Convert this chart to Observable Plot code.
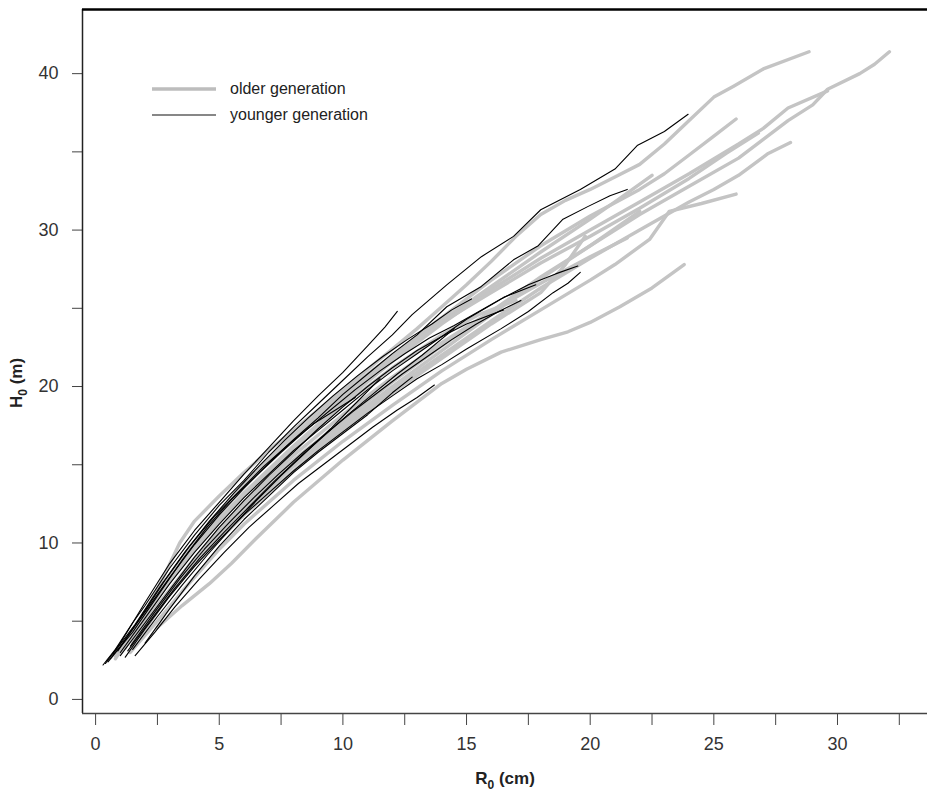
<!DOCTYPE html>
<html>
<head>
<meta charset="utf-8">
<script src="https://cdn.jsdelivr.net/npm/d3@7"></script>
<script src="https://cdn.jsdelivr.net/npm/@observablehq/plot@0.6"></script>
<style>
  html, body { margin: 0; padding: 0; background: #fff; }
  #wrap { position: relative; width: 927px; height: 798px; font-family: "Liberation Sans", Arial, sans-serif; }
  #legend { position: absolute; left: 150px; top: 76px; font-size: 16px; color: #222; line-height: 26px; }
  #legend div { display: flex; align-items: center; }
  #legend svg { margin-right: 12px; }
</style>
</head>
<body>
<div id="wrap">
  <div id="chart"></div>
  <div id="legend">
    <div><svg width="68" height="10"><line x1="2" x2="66" y1="5" y2="5" stroke="#bdbdbd" stroke-width="3.5"/></svg>older generation</div>
    <div><svg width="68" height="10"><line x1="2" x2="66" y1="5" y2="5" stroke="#111" stroke-width="1.2"/></svg>younger generation</div>
  </div>
</div>
<script>
// ---- Data: stem profiles, [R0 (cm), H0 (m)] ----
// older generation (grey)
const old1  = [[1.2,3.3],[2,5.5],[2.8,8.0],[3.4,10.0],[4,11.4],[5,13.0],[6,14.5],[7,15.9],[8,17.2],[9,18.5],[10,19.8],[11,21.1],[12,22.4],[13,23.7],[14,25.1],[15,26.5],[16,28.0],[17,29.6],[18,31.0],[19,31.9],[20,32.6],[21,33.4],[22,34.2],[23,35.5],[24,37.0],[25,38.5],[25.8,39.2],[27,40.3],[28.85,41.4]];
const old2  = [[0.8,2.8],[2,5.0],[3,7.0],[4,9.0],[5,10.8],[6,12.4],[8,15.3],[10,17.8],[12,20.3],[14,22.6],[16,24.8],[18,27.0],[20,29.0],[22,31.0],[24,32.8],[26,34.6],[27,35.8],[28,37.0],[29,38.0],[29.6,39.0],[30.9,40.0],[31.5,40.6],[32.1,41.4]];
const old3  = [[1.5,3.5],[2.5,5.8],[3.5,7.8],[5,10.4],[6,12.0],[8,14.9],[10,17.4],[12,19.8],[14,22.0],[16,24.2],[18,26.3],[20,28.2],[22,30.0],[24,31.8],[25,32.6],[26,33.5],[27.2,34.9],[28.1,35.6]];
const old4  = [[1.4,3.0],[2.5,5.0],[3.5,6.9],[5,9.6],[6,11.2],[8,14.0],[10,16.5],[12,18.8],[14,21.0],[16,23.0],[18,24.9],[20,26.8],[21,27.8],[22.4,29.4],[23.2,31.2],[24.5,31.7],[25.9,32.3]];
const old5  = [[2.5,4.6],[3.5,6.0],[4.6,7.4],[5.5,8.7],[6.5,10.3],[8,12.6],[10,15.3],[12,17.8],[13,19.0],[14,20.2],[15,21.1],[16.4,22.2],[18,23.0],[19.1,23.5],[20,24.1],[21.2,25.1],[22.5,26.3],[23.8,27.8]];
const old6  = [[0.8,2.6],[2,5.4],[3,7.6],[4,9.8],[5,11.8],[6,13.6],[8,16.8],[10,19.5],[12,22.0],[14,24.4],[16,26.8],[18,29.0],[20,30.9],[22,32.6],[23,33.6],[24,34.8],[25,36.0],[25.9,37.1]];
const old7  = [[1,3.0],[2,5.6],[3,7.8],[4,9.7],[5,11.5],[6,13.2],[8,16.2],[10,19.0],[12,21.6],[14,24.0],[16,26.2],[18,28.2],[20,30.0],[22,31.8],[24,33.6],[26,35.5],[27,36.5],[28,37.8],[29.6,38.9]];
const old8  = [[1,3.2],[2,5.5],[3,7.9],[4,10.0],[5,12.0],[6,13.8],[7,15.4],[8,16.9],[10,19.6],[12,22.0],[14,24.2],[16,26.4],[18,28.6],[20,30.7],[21,31.8],[22.5,33.5]];
const old9  = [[1.5,3.6],[2.5,6.0],[4,9.0],[5,10.9],[6,12.6],[8,15.6],[10,18.2],[12,20.6],[14,22.8],[16,24.8],[18,26.6],[20,28.3],[21.5,29.5]];
const old10 = [[2,4.8],[3,6.9],[4,8.8],[5,10.6],[6,12.2],[8,15.0],[10,17.6],[12,20.0],[14,22.3],[16,24.6],[18,26.9],[20,29.0],[22,31.2]];
const old11 = [[0.5,2.5],[1.5,4.2],[2.5,6.5],[3.5,8.6],[5,11.4],[6,13.0],[8,16.0],[10,18.8],[12,21.2],[14,23.3],[15.5,24.6],[17,25.5]];
const old12 = [[1.8,4.0],[3,6.8],[4,8.6],[5,10.2],[6,11.8],[8,14.6],[10,17.2],[12,19.6],[14,21.8],[16,24.0],[18,26.0],[19,27.8],[19.8,29.6]];
const old13 = [[1.2,3.4],[2.2,5.9],[3.2,8.3],[4.2,10.4],[5.2,12.2],[6.5,14.4],[8,16.6],[10,19.3],[12,21.8],[14,24.1],[16,26.0],[18,27.9],[20,29.6],[22,31.4],[24,33.3],[25.5,34.9],[26.8,36.2]];
const olderSeries = [old1, old2, old3, old4, old5, old6, old7, old8, old9, old10, old11, old12, old13];

// younger generation (black)
const young1  = [[0.3,2.2],[0.8,3.2],[1.5,4.9],[2,6.0],[3,8.4],[4,10.5],[5,12.4],[6,14.0],[7,15.8],[8,17.4],[9,18.9],[10,20.4],[11,21.9],[12,23.3],[12.8,24.6],[14.2,26.5],[15.6,28.3],[16.9,29.6],[18,31.3],[19.6,32.6],[21,33.9],[21.9,35.4],[23,36.3],[23.96,37.4]];
const young2  = [[0.5,2.4],[1,3.4],[2,5.6],[3,7.8],[4,9.9],[5,11.8],[6,13.5],[7,15.1],[8,16.6],[9,18.0],[10,19.5],[11,20.8],[12,22.1],[13,23.3],[14.2,25.1],[15.6,26.4],[16.9,28.1],[17.9,29.0],[18.9,30.7],[19.9,31.5],[20.8,32.2],[21.5,32.6]];
const young3  = [[1,3.0],[2,5.2],[3,7.4],[4,9.4],[5,11.2],[6,12.9],[7,14.4],[8,15.9],[9,17.2],[10,18.5],[11,19.8],[12,21.0],[13,22.1],[14,23.2],[15,24.3],[16.4,25.6],[17.5,26.5],[18.6,27.2],[19.5,27.7]];
const young4  = [[1.2,2.7],[2,4.5],[3,6.6],[4,8.5],[5,10.2],[6,11.8],[7,13.2],[8,14.6],[9,15.9],[10,17.1],[11,18.3],[12,19.4],[13,20.5],[14,21.4],[15,22.4],[16.4,23.7],[17.5,24.8],[18.5,26.0],[19.1,26.6],[19.6,27.3]];
const young5  = [[0.6,2.6],[1.5,4.3],[2.5,6.6],[3.5,8.9],[4.5,11.0],[5.5,12.8],[6.5,14.3],[7.5,15.8],[8.5,17.2],[9.5,18.5],[10.5,19.8],[11.5,21.0],[12.5,22.1],[13.5,23.1],[14.5,23.9],[15.5,24.8],[16.5,25.7],[17.8,26.5]];
const young6  = [[0.4,2.3],[1,3.6],[2,6.2],[3,8.7],[4,10.8],[5,12.6],[6,14.4],[7,16.1],[8,17.8],[9,19.4],[10,20.9],[11,22.6],[11.7,23.8],[12.2,24.8]];
const young7  = [[1.3,3.1],[2.2,5.0],[3.2,7.1],[4.2,9.0],[5.2,10.7],[6.2,12.3],[7.2,13.9],[8.2,15.4],[9.2,16.8],[10.2,18.2],[11.2,19.5],[12.2,20.8],[13.2,22.0],[14.5,23.7]];
const young8  = [[1.6,2.8],[2.4,4.3],[3.2,5.9],[4.2,7.7],[5.2,9.4],[6.2,11.0],[7.2,12.4],[8.2,13.8],[9.2,15.0],[10.2,16.2],[11.2,17.4],[12.2,18.5],[13,19.3],[13.7,20.1]];
const young9  = [[1.0,2.8],[2,4.9],[3,7.0],[4,9.1],[5,11.0],[6,12.7],[7,14.3],[8,15.8],[9,17.3],[10,18.7],[11,20.0],[12,21.2],[13,22.3],[14,23.2],[15,24.0],[16.5,24.9]];
const young10 = [[1.4,3.4],[2.4,5.6],[3.4,7.7],[4.4,9.6],[5.4,11.3],[6.4,12.9],[7.4,14.4],[8.4,15.8],[9.4,17.1],[10.4,18.4],[11.4,19.6],[12.4,20.8],[13.4,21.9],[14.4,23.0],[15.4,24.0],[16.3,24.8],[17.2,25.5]];
const young11 = [[0.9,3.1],[1.8,5.2],[2.8,7.6],[3.8,9.8],[4.8,11.7],[5.8,13.3],[6.8,14.9],[7.8,16.3],[8.8,17.6],[9.7,18.5],[10.5,19.3]];
const young12 = [[0.7,2.9],[1.6,4.8],[2.6,7.2],[3.6,9.4],[4.6,11.4],[5.6,13.2],[6.6,14.9],[7.6,16.5],[8.6,18.0],[9.6,19.4],[10.6,20.7],[11.6,21.9],[12.6,23.0],[13.6,24.0],[14.4,24.9],[15.2,25.6]];
const young13 = [[1.5,3.2],[2.5,5.3],[3.5,7.3],[4.5,9.2],[5.5,11.0],[6.5,12.7],[7.5,14.3],[8.5,15.8],[9.5,17.3],[10.5,18.9],[11.5,20.5]];
const young14 = [[2.0,3.6],[3,5.8],[4,7.9],[5,9.8],[6,11.5],[7,13.0],[8,14.5],[9,15.8],[10,17.0],[11,18.2],[12,19.6],[12.8,20.6]];
const youngerSeries = [young1, young2, young3, young4, young5, young6, young7, young8, young9, young10, young11, young12, young13, young14];

// axis ticks
const xTicks = [0, 2.5, 5, 7.5, 10, 12.5, 15, 17.5, 20, 22.5, 25, 27.5, 30, 32.5];
const xLabels = [0, 5, 10, 15, 20, 25, 30];
const yTicks = [0, 5, 10, 15, 20, 25, 30, 35, 40];
const yLabels = [0, 10, 20, 30, 40];
const xDomain = [-0.53, 33.64];
const yDomain = [-0.9, 44.1];

// build tidy rows
const olderRows = olderSeries.flatMap((s, i) => s.map(([R, H]) => ({R, H, id: "o" + i})));
const youngerRows = youngerSeries.flatMap((s, i) => s.map(([R, H]) => ({R, H, id: "y" + i})));

const plot = Plot.plot({
  width: 927,
  height: 798,
  marginLeft: 82,
  marginRight: 0,
  marginTop: 9,
  marginBottom: 85,
  style: {fontFamily: "'Liberation Sans', Arial, sans-serif", fontSize: "18px", color: "#333", background: "#fff"},
  x: {domain: xDomain},
  y: {domain: yDomain},
  marks: [
    Plot.line(olderRows, {x: "R", y: "H", z: "id", stroke: "#c4c4c4", strokeWidth: 3.4, curve: "linear", strokeLinejoin: "round", strokeLinecap: "round"}),
    Plot.line(youngerRows, {x: "R", y: "H", z: "id", stroke: "#000", strokeWidth: 1.1, curve: "linear"}),
    Plot.axisX({ticks: xTicks, tickSize: 12, tickPadding: 12, tickFormat: d => xLabels.includes(d) ? String(d) : "", label: null, stroke: "#444"}),
    Plot.axisY({ticks: yTicks, tickSize: 10, tickPadding: 14, tickFormat: d => yLabels.includes(d) ? String(d) : "", label: null, stroke: "#444"}),
    Plot.ruleX([xDomain[0]], {stroke: "#222", strokeWidth: 1.5}),
    Plot.ruleY([yDomain[0]], {stroke: "#444", strokeWidth: 1.5}),
    Plot.ruleY([yDomain[1]], {stroke: "#000", strokeWidth: 2.5})
  ]
});
document.getElementById("chart").appendChild(plot);

const svg = d3.select(plot);
// axis titles with subscripts
const xt = svg.append("text").attr("x", 505).attr("y", 784).attr("text-anchor", "middle")
  .attr("font-weight", "bold").attr("font-size", 17).attr("fill", "#222");
xt.append("tspan").text("R");
xt.append("tspan").text("0").attr("font-size", 12).attr("dy", 5);
xt.append("tspan").text(" (cm)").attr("dy", -5);
const yt = svg.append("text").attr("transform", "translate(22,383) rotate(-90)").attr("text-anchor", "middle")
  .attr("font-weight", "bold").attr("font-size", 17).attr("fill", "#222");
yt.append("tspan").text("H");
yt.append("tspan").text("0").attr("font-size", 12).attr("dy", 5);
yt.append("tspan").text(" (m)").attr("dy", -5);
</script>
</body>
</html>
